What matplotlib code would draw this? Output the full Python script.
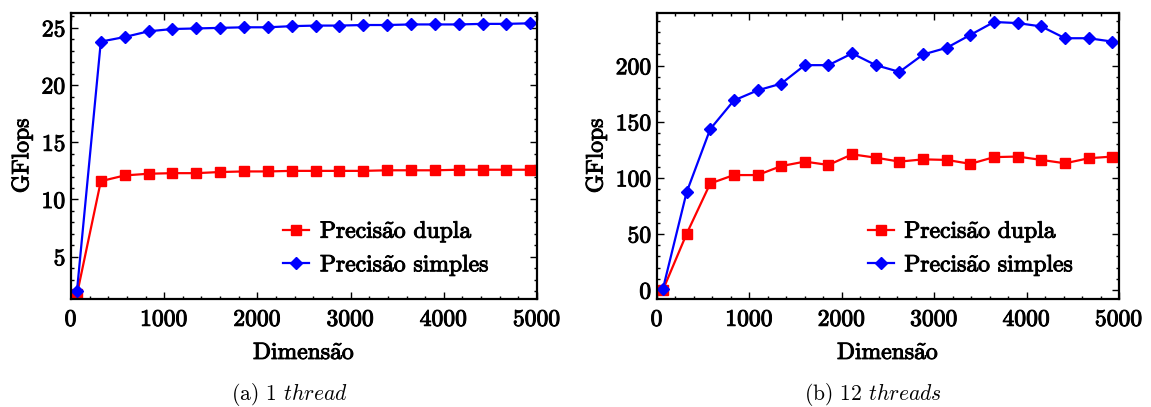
import numpy as np
import matplotlib
matplotlib.use("Agg")
import matplotlib.pyplot as plt
import matplotlib.patheffects as pe
from matplotlib.ticker import MultipleLocator

plt.rcParams['font.family'] = 'cmr10'
plt.rcParams['mathtext.fontset'] = 'cm'
plt.rcParams['axes.formatter.use_mathtext'] = True

# Dimensões das matrizes testadas
dimensao = [64, 320, 576, 832, 1088, 1344, 1600, 1856, 2112, 2368,
            2624, 2880, 3136, 3392, 3648, 3904, 4160, 4416, 4672, 4928]

# 1 thread
dupla_1 = [1.7, 11.6, 12.1, 12.25, 12.3, 12.3, 12.4, 12.45, 12.45, 12.5,
           12.5, 12.5, 12.5, 12.55, 12.55, 12.55, 12.6, 12.6, 12.6, 12.6]
simples_1 = [2.0, 23.8, 24.2, 24.7, 24.9, 24.95, 25.0, 25.05, 25.05, 25.15,
             25.2, 25.2, 25.25, 25.25, 25.3, 25.3, 25.3, 25.35, 25.35, 25.4]

# 12 threads
dupla_12 = [0, 50, 95, 102.5, 102.5, 110.5, 114.5, 111.5, 121, 118,
            114.5, 116.5, 116, 112.5, 118.5, 119, 116, 113, 117.5, 119]
simples_12 = [1, 87, 143.5, 169, 178, 184, 200.5, 200.5, 211, 200.5,
              194.5, 210, 216, 227.5, 239, 238, 235, 224.5, 224.5, 221.5]

# ã não existe na cmr10, por isso o acento vai em mathtext
rotulo_dupla = r'Precis$\tilde{\mathrm{a}}$o dupla'
rotulo_simples = r'Precis$\tilde{\mathrm{a}}$o simples'
rotulo_x = r'Dimens$\tilde{\mathrm{a}}$o'

# traço fino para engrossar o texto
grosso = [pe.withStroke(linewidth=0.7, foreground='black')]

fig = plt.figure(figsize=(11.51, 4.07), dpi=100)
ax1 = fig.add_axes([71 / 1151, 1 - 299 / 407, 466 / 1151, 286 / 407])
ax2 = fig.add_axes([657 / 1151, 1 - 299 / 407, 462 / 1151, 286 / 407])


def desenha(ax, dupla, simples, ylim, ymaj, ymin, legenda_y):
    ax.plot(dimensao, dupla, '-', color='red', marker='s', markersize=7.5,
            linewidth=1.6, label=rotulo_dupla)
    ax.plot(dimensao, simples, '-', color='blue', marker='D', markersize=6,
            linewidth=1.6, label=rotulo_simples)
    ax.set_xlim(0, 5000)
    ax.set_ylim(*ylim)
    ax.xaxis.set_major_locator(MultipleLocator(1000))
    ax.xaxis.set_minor_locator(MultipleLocator(200))
    ax.yaxis.set_major_locator(MultipleLocator(ymaj))
    ax.yaxis.set_minor_locator(MultipleLocator(ymin))
    ax.tick_params(which='both', direction='in', top=True, right=True,
                   labelsize=17, width=1.0)
    ax.tick_params(which='major', length=5)
    ax.tick_params(axis='x', which='major', pad=7)
    ax.tick_params(which='minor', length=2.5)
    for lbl in ax.get_xticklabels() + ax.get_yticklabels():
        lbl.set_path_effects(grosso)
    for s in ax.spines.values():
        s.set_linewidth(1.6)
    ax.set_xlabel(rotulo_x, fontsize=17, labelpad=8, path_effects=grosso)
    ax.set_ylabel('GFlops', fontsize=17, labelpad=6, path_effects=grosso)
    leg = ax.legend(loc='center left', bbox_to_anchor=(0.41, legenda_y), frameon=False,
                    fontsize=17, handlelength=1.1, handletextpad=0.45, labelspacing=0.28)
    for t in leg.get_texts():
        t.set_path_effects(grosso)


desenha(ax1, dupla_1, simples_1, (1.3, 26.3), 5, 1, 0.178)
desenha(ax2, dupla_12, simples_12, (-8, 247), 50, 10, 0.178)

fig.text(290 / 1151, 1 - 395 / 407, r'(a) 1 $\mathit{thread}$', ha='center',
         va='center', fontsize=15.5)
fig.text(873 / 1151, 1 - 395 / 407, r'(b) 12 $\mathit{threads}$', ha='center',
         va='center', fontsize=15.5)

fig.savefig('out.png', dpi=100)
